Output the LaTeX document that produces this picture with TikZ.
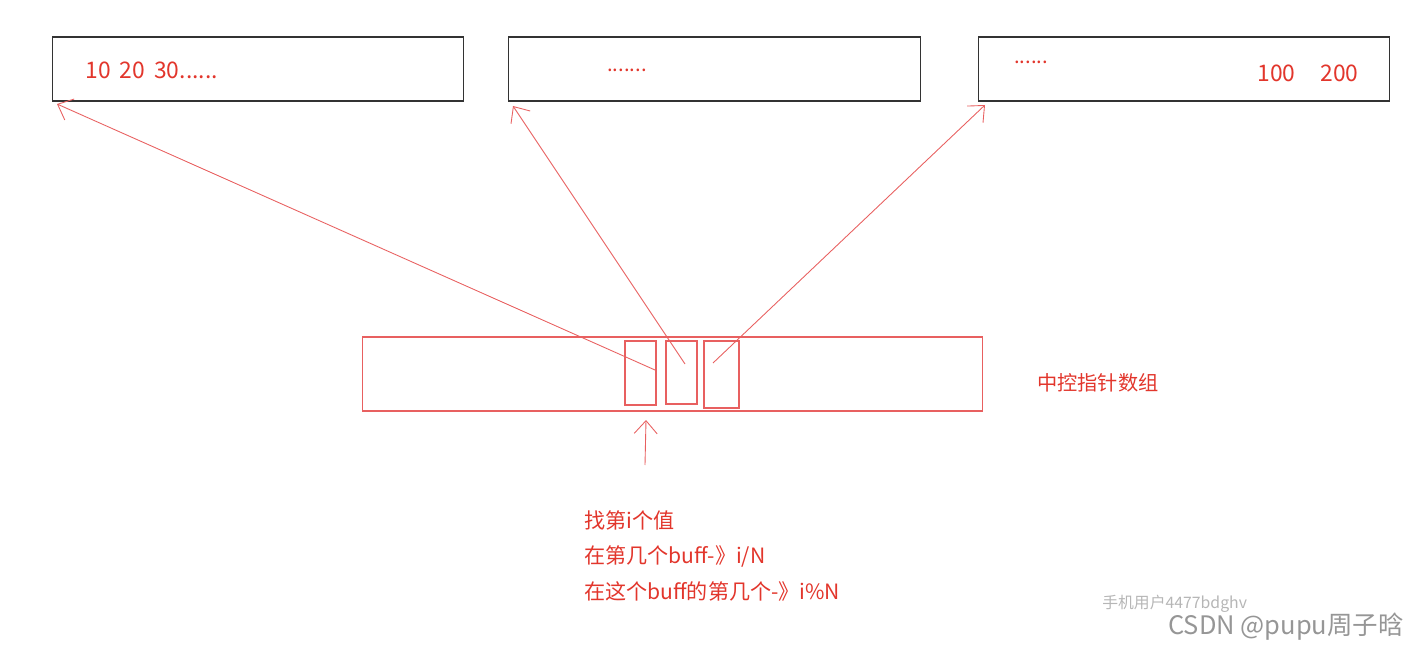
\documentclass[tikz,border=0pt]{standalone}
\usepackage{fontspec}
\setmainfont{Noto Sans CJK SC}
\usetikzlibrary{arrows.meta}
\definecolor{hand}{RGB}{226,54,44}
\definecolor{pen}{RGB}{232,96,96}
\definecolor{wm}{RGB}{150,150,150}

\begin{document}
\begin{tikzpicture}[x=0.02cm,y=-0.02cm,
  buf/.style={draw=black!80,line width=0.6pt,minimum width=8.24cm,minimum height=1.28cm,inner sep=0pt},
  cell/.style={draw=pen,line width=0.6pt,minimum width=0.62cm,minimum height=1.28cm,inner sep=0pt},
  txt/.style={text=hand,font=\fontsize{11.5}{14}\selectfont,inner sep=0pt},
  num/.style={text=hand,font=\fontsize{13}{15}\selectfont,inner sep=0pt},
  ptr/.style={draw=pen,line width=0.5pt,-{Straight Barb[length=2.6mm,width=4.6mm]}},
  >=Stealth]
\useasboundingbox (0,0) rectangle (1414,652);
% buffers
\node[buf] (b1) at (258,69) {};
\node[buf] (b2) at (714.5,69) {};
\node[buf] (b3) at (1184,69) {};
\node[num,anchor=west] (v1) at (85,70) {10\hspace{0.4em}20\hspace{0.4em}30......};
\node[txt,anchor=west] (v2) at (607,70) {.......};
\node[txt,anchor=west] (v3) at (1014,62) {......};
\node[num,anchor=west] (v4) at (1257,73) {100\hspace{1.1em}200};
% central array
\node[draw=pen,line width=0.6pt,minimum width=12.42cm,minimum height=1.48cm,inner sep=0pt] (arr) at (672.5,374) {};
\node[cell] (c1) at (640.5,373) {};
\node[cell,minimum height=1.26cm] (c2) at (681.5,372.5) {};
\node[cell,minimum width=0.7cm,minimum height=1.34cm] (c3) at (721.5,374.5) {};
\node[txt,anchor=west] (lbl) at (1037,383) {中控指针数组};
% pointers
\coordinate (p1) at (655,370);
\coordinate (p2) at (685,364);
\coordinate (p3) at (713,363);
\coordinate (t1) at (57,104);
\coordinate (t2) at (513,106);
\coordinate (t3) at (985,105);
\draw[ptr] (p1) -- (t1);
\draw[ptr] (p2) -- (t2);
\draw[ptr] (p3) -- (t3);
\coordinate (u0) at (645,465);
\coordinate (u1) at (646,420);
\draw[ptr] (u0) -- (u1);
% note
\node[txt,font=\fontsize{12}{14}\selectfont,anchor=west] (n1) at (584,520) {找第i个值};
\node[txt,font=\fontsize{12}{14}\selectfont,anchor=west] (n2) at (584,556) {在第几个buff-》i/N};
\node[txt,font=\fontsize{12}{14}\selectfont,anchor=west] (n3) at (584,591) {在这个buff的第几个-》i\%N};
% watermark
\node[text=wm!70,font=\fontsize{9}{11}\selectfont,anchor=west,inner sep=0pt] (w1) at (1102,604) {手机用户4477bdghv};
\node[text=wm,font=\fontsize{14.5}{17}\selectfont,anchor=west,inner sep=0pt] (w2) at (1168,627) {CSDN @pupu周子晗};
\end{tikzpicture}
\end{document}
